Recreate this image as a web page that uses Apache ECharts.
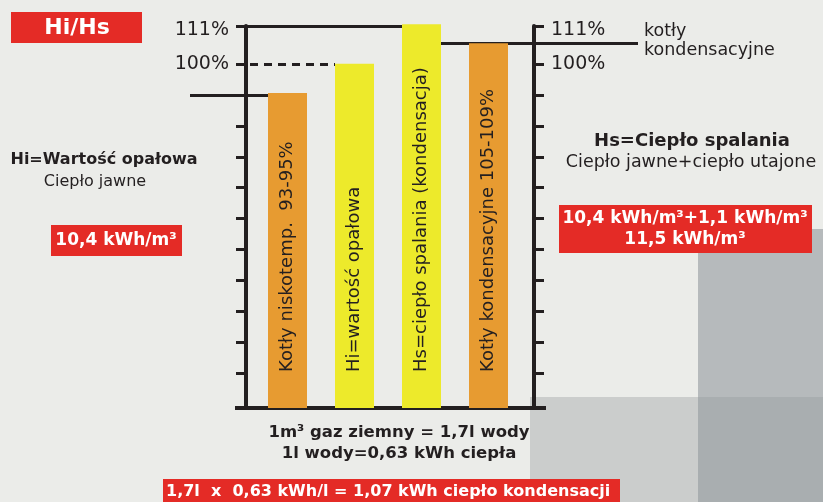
<!DOCTYPE html>
<html>
<head>
<meta charset="utf-8">
<title>Hi/Hs</title>
<script src="https://cdn.jsdelivr.net/npm/echarts@6/dist/echarts.min.js"></script>
<style>
html, body { margin: 0; padding: 0; background: #EBECE9; }
#main { width: 823px; height: 502px; }
</style>
</head>
<body>
<div id="main"></div>
<script>
// bars (percent of Hi)
var categories = ['Kotły niskotemp.  93-95%', 'Hi=wartość opałowa', 'Hs=ciepło spalania (kondensacja)', 'Kotły kondensacyjne 105-109%'];
var barValues = [91.5, 100, 111.5, 106];
var barKinds = ['boiler', 'value', 'value', 'boiler'];

// axis ticks and labelled ticks
var tickValues = [10, 19, 28, 37, 46, 55, 64, 73, 82, 91, 100, 111];
var labelValues = [100, 111];

// reference levels
var levelLow = 91;
var levelHi = 100;
var levelHs = 111;
var levelCond = 106;

var INK = '#231F20';
var RED = '#E42B26';
var FONT = '"DejaVu Sans", Verdana, sans-serif';
var BAR_W = 39;
var kindColor = { boiler: '#E79B31', value: '#EDEA2B' };

var myChart;

function pctLabel(v)
{
    return v === 111 ? '{top|111%}' : v + '%';
}

function yAxisFor(pos, offset)
{
    return {
        type: 'value',
        position: pos,
        offset: offset,
        min: 0,
        max: 111,
        splitLine: { show: false },
        axisLine: { show: true, lineStyle: { color: INK, width: 4 } },
        axisTick: {
            show: true,
            customValues: tickValues,
            length: 10,
            lineStyle: { color: INK, width: 3 }
        },
        axisLabel: {
            customValues: labelValues,
            margin: 17,
            color: INK,
            fontSize: 19,
            fontFamily: FONT,
            formatter: pctLabel,
            rich: {
                top: { padding: [8, 0, 0, 0], color: INK, fontSize: 19, fontFamily: FONT }
            }
        }
    };
}

function txt(text, x, y, size, bold, color, align)
{
    return {
        type: 'text',
        x: x,
        y: y,
        z: 100,
        style: {
            text: text,
            fill: color || INK,
            font: (bold ? 'bold ' : '') + size + 'px ' + FONT,
            align: align || 'center',
            verticalAlign: 'middle'
        }
    };
}

function box(x, y, w, h, fill, z)
{
    return { type: 'rect', z: z, shape: { x: x, y: y, width: w, height: h }, style: { fill: fill } };
}

// bar edge in pixels, taken from the category axis
function barEdge(idx, side)
{
    var cx = myChart.convertToPixel({ xAxisIndex: 0 }, idx);
    return cx + side * BAR_W / 2;
}

document.addEventListener("DOMContentLoaded", function()
{
    myChart = echarts.init(document.getElementById('main'), null, { renderer: 'canvas' });

    var option = {
        backgroundColor: '#EBECE9',
        animation: false,
        grid: { left: 254, right: 301, top: 26, bottom: 94 },
        xAxis: {
            type: 'category',
            data: categories,
            axisLine: { show: false },
            axisTick: { show: false },
            axisLabel: { show: false }
        },
        yAxis: [yAxisFor('left', 8), yAxisFor('right', 12)],
        series: [
            {
                type: 'bar',
                z: 10,
                clip: false,
                barWidth: BAR_W,
                data: barValues.map(function (v, i) {
                    return { value: v, itemStyle: { color: kindColor[barKinds[i]] } };
                }),
                label: {
                    show: true,
                    position: 'insideBottom',
                    rotate: 90,
                    align: 'left',
                    verticalAlign: 'middle',
                    distance: 36,
                    formatter: '{b}',
                    color: INK,
                    fontSize: 18,
                    fontFamily: FONT
                }
            }
        ],
        graphic: {
            elements: [
                box(698, 229, 125, 168, '#B6BABC', -10),
                box(530, 397, 168, 105, '#CBCDCC', -10),
                box(698, 397, 125, 105, '#A9AEB0', -10),

                box(11, 12, 131, 31, RED, 90),
                txt('Hi/Hs', 77, 28, 22, true, '#FFFFFF'),

                txt('Hi=Wartość opałowa', 104, 160, 16, true),
                txt('Ciepło jawne', 95, 182, 16, false),
                box(51, 225, 131, 31, RED, 90),
                txt('10,4 kWh/m³', 116, 241, 17, true, '#FFFFFF'),

                txt('kotły', 644, 31, 17.5, false, INK, 'left'),
                txt('kondensacyjne', 644, 50, 17.5, false, INK, 'left'),

                txt('Hs=Ciepło spalania', 692, 141, 18, true),
                txt('Ciepło jawne+ciepło utajone', 691, 162, 17.5, false),
                box(559, 205, 253, 48, RED, 90),
                txt('10,4 kWh/m³+1,1 kWh/m³', 685, 219, 17, true, '#FFFFFF'),
                txt('11,5 kWh/m³', 685, 240, 17, true, '#FFFFFF'),

                txt('1m³ gaz ziemny = 1,7l wody', 399, 433, 16.5, true),
                txt('1l wody=0,63 kWh ciepła', 399, 454, 16.5, true),
                box(163, 479, 457, 23, RED, 90),
                txt('1,7l  x  0,63 kWh/l = 1,07 kWh ciepło kondensacji', 166, 492, 16, true, '#FFFFFF', 'left')
            ]
        }
    };

    myChart.setOption(option);

    // reference lines end at the bar edges
    var solid = { color: INK, width: 3, type: 'solid' };
    myChart.setOption({
        series: [{
            markLine: {
                z: 3,
                silent: true,
                symbol: 'none',
                label: { show: false },
                lineStyle: solid,
                data: [
                    [{ x: 190, yAxis: levelLow }, { x: barEdge(0, -1), yAxis: levelLow }],
                    [{ x: 236, yAxis: levelHi, lineStyle: { color: INK, width: 3, type: [8, 6] } }, { x: barEdge(1, -1), yAxis: levelHi }],
                    [{ x: 237, yAxis: levelHs }, { x: barEdge(2, -1), yAxis: levelHs }],
                    [{ x: barEdge(2, 1), yAxis: levelCond }, { x: 638, yAxis: levelCond }],
                    [{ x: 235, yAxis: 0, lineStyle: { color: INK, width: 4, type: 'solid' } }, { x: 546, yAxis: 0 }]
                ]
            }
        }]
    });

    window.addEventListener('resize', myChart.resize);
});
</script>
</body>
</html>
